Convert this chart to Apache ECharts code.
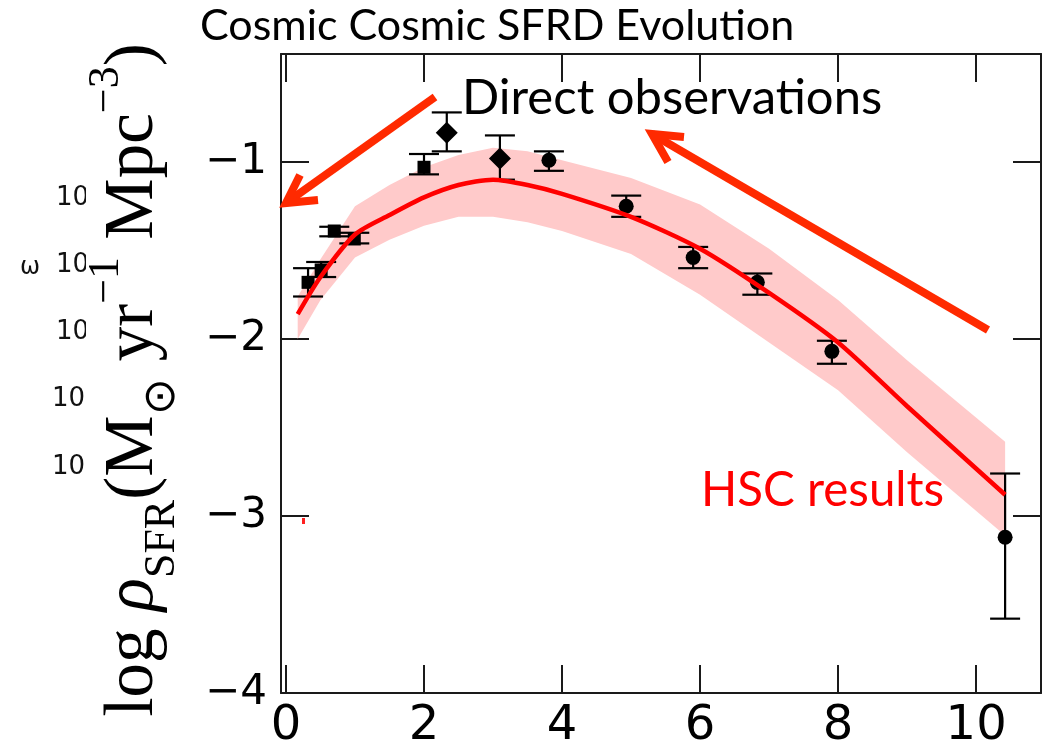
<!DOCTYPE html>
<html>
<head>
<meta charset="utf-8">
<script src="https://cdn.jsdelivr.net/npm/echarts@6/dist/echarts.min.js"></script>
<style>
html,body{margin:0;padding:0;background:#fff;}
#chart{width:1045px;height:751px;}
</style>
</head>
<body>
<div id="chart"></div>
<script>
// ---- data ----
const xTicks = [0, 2, 4, 6, 8, 10];
const yTicks = [-4, -3, -2, -1];

// HSC model curve and its uncertainty band
const zGrid    = [0.17, 0.5, 1.0, 1.5, 2.0, 2.5, 3.0, 3.5, 4.0, 5.0, 6.0, 7.0, 8.0, 9.0, 10.42];
const hscFit   = [-1.86, -1.65, -1.41, -1.30, -1.20, -1.13, -1.10, -1.13, -1.18, -1.31, -1.49, -1.74, -2.02, -2.38, -2.88];
const hscUpper = [-1.76, -1.55, -1.25, -1.13, -1.03, -0.96, -0.92, -0.94, -0.99, -1.09, -1.24, -1.49, -1.78, -2.12, -2.58];
const hscLower = [-2.00, -1.78, -1.54, -1.44, -1.36, -1.31, -1.31, -1.34, -1.39, -1.52, -1.75, -2.02, -2.29, -2.64, -3.11];

// Direct observations
const obsZ     = [0.32, 0.51, 0.70, 0.99, 2.00, 2.33, 3.10, 3.81, 4.93, 5.90, 6.83, 7.91, 10.42];
const obsSFRD  = [-1.68, -1.61, -1.39, -1.435, -1.03, -0.835, -0.98, -0.99, -1.25, -1.54, -1.68, -2.07, -3.12];
const obsHigh  = [-1.60, -1.565, -1.366, -1.40, -0.955, -0.72, -0.85, -0.94, -1.19, -1.48, -1.63, -2.01, -2.76];
const obsLow   = [-1.76, -1.65, -1.42, -1.46, -1.07, -0.94, -1.10, -1.05, -1.31, -1.60, -1.75, -2.14, -3.58];
const obsShape = ['rect','rect','rect','rect','rect','diamond','diamond','circle','circle','circle','circle','circle','circle'];

// ---- chart ----
const chart = echarts.init(document.getElementById('chart'), null, {renderer:'canvas'});
const sizeOf = {rect: 13, diamond: 22, circle: 15};
const minusFmt = v => String(v).replace('-', '\u2212');
const axisColor = '#1a1a1a';

const bandPts = (api) => {
  const pts = [];
  for (let i = 0; i < zGrid.length; i++) pts.push(api.coord([zGrid[i], hscUpper[i]]));
  for (let i = zGrid.length - 1; i >= 0; i--) pts.push(api.coord([zGrid[i], hscLower[i]]));
  return pts;
};

const option = {
  backgroundColor: '#fff',
  animation: false,
  grid: {left: 281, right: 4, top: 54, bottom: 58, containLabel: false},
  xAxis: [
    {type:'value', min:-0.072, max:10.94, position:'bottom',
     axisLine:{show:true, onZero:false, lineStyle:{color:axisColor, width:2}},
     axisTick:{show:true, inside:true, length:28, lineStyle:{color:axisColor, width:2}, customValues: xTicks},
     axisLabel:{show:true, customValues: xTicks, fontFamily:'DejaVu Sans', fontSize:48, color:'#000', margin:10},
     splitLine:{show:false}},
    {type:'value', min:-0.072, max:10.94, position:'top',
     axisLine:{show:true, onZero:false, lineStyle:{color:axisColor, width:2}},
     axisTick:{show:true, inside:true, length:28, lineStyle:{color:axisColor, width:2}, customValues: xTicks},
     axisLabel:{show:false}, splitLine:{show:false}}
  ],
  yAxis: [
    {type:'value', min:-4, max:-0.39, position:'left',
     axisLine:{show:true, onZero:false, lineStyle:{color:axisColor, width:2}},
     axisTick:{show:true, inside:true, length:28, lineStyle:{color:axisColor, width:2}, customValues: yTicks},
     axisLabel:{show:true, customValues: yTicks, formatter: minusFmt, fontFamily:'DejaVu Sans', fontSize:42, color:'#000', margin:14},
     splitLine:{show:false}},
    {type:'value', min:-4, max:-0.39, position:'right',
     axisLine:{show:true, onZero:false, lineStyle:{color:axisColor, width:2}},
     axisTick:{show:true, inside:true, length:28, lineStyle:{color:axisColor, width:2}, customValues: yTicks},
     axisLabel:{show:false}, splitLine:{show:false}}
  ],
  series: [
    {type:'custom', name:'band', z:1, silent:true, clip:true,
     data:[[zGrid[0], hscFit[0]]],
     renderItem:(params, api) => ({type:'polygon', shape:{points: bandPts(api)}, style:{fill:'#ffcaca'}})},
    {type:'custom', name:'errors', z:3, silent:true,
     data: obsZ.map((z,i)=>[z, obsLow[i], obsHigh[i]]),
     encode:{x:0, y:[1,2]},
     renderItem:(params, api) => {
       const lo = api.coord([api.value(0), api.value(1)]);
       const hi = api.coord([api.value(0), api.value(2)]);
       const h = 15;
       const st = {stroke:'#000', lineWidth:2.2};
       return {type:'group', children:[
         {type:'line', shape:{x1:lo[0], y1:lo[1], x2:hi[0], y2:hi[1]}, style:st},
         {type:'line', shape:{x1:lo[0]-h, y1:lo[1], x2:lo[0]+h, y2:lo[1]}, style:st},
         {type:'line', shape:{x1:hi[0]-h, y1:hi[1], x2:hi[0]+h, y2:hi[1]}, style:st}
       ]};
     }},
    {type:'scatter', name:'obs', z:4, silent:true,
     data: obsZ.map((z,i)=>({value:[z, obsSFRD[i]], symbol: obsShape[i], symbolSize: sizeOf[obsShape[i]]})),
     itemStyle:{color:'#000', opacity:1}},
    {type:'line', name:'HSC', z:5, silent:true, smooth:0.25, showSymbol:false, symbol:'none',
     data: zGrid.map((z,i)=>[z, hscFit[i]]),
     lineStyle:{color:'#ff0000', width:4.5}}
  ],
  graphic: [
    // title
    {type:'text', left:200, top:5, style:{text:'Cosmic Cosmic SFRD Evolution', fontFamily:'Lato', fontSize:43, fill:'#000'}},
    {type:'text', left:462, top:74, style:{text:'Direct observations', fontFamily:'Lato', fontSize:49, fill:'#000'}},
    {type:'text', left:701, top:467, style:{text:'HSC results', fontFamily:'Lato', fontSize:47.5, fill:'#ff0000'}},
    // arrows
    {type:'polyline', shape:{points:[[435,97],[286,203]]}, style:{stroke:'#ff2a00', lineWidth:8, fill:null}, z:10},
    {type:'polyline', shape:{points:[[300,175],[286,203],[318,200]]}, style:{stroke:'#ff2a00', lineWidth:8, fill:null, lineJoin:'miter'}, z:10},
    {type:'polyline', shape:{points:[[988,330],[652,134]]}, style:{stroke:'#ff2a00', lineWidth:8, fill:null}, z:10},
    {type:'polyline', shape:{points:[[684,137],[652,134],[668,162]]}, style:{stroke:'#ff2a00', lineWidth:8, fill:null, lineJoin:'miter'}, z:10},
    // small red mark
    {type:'rect', shape:{x:302, y:518, width:3, height:6}, style:{fill:'#ff2020'}},
    // leftover labels
    {type:'text', x:56, y:198, style:{text:'10', fontFamily:'DejaVu Sans', fontSize:26, fill:'#111', verticalAlign:'middle'}},
    {type:'text', x:56, y:265, style:{text:'10', fontFamily:'DejaVu Sans', fontSize:26, fill:'#111', verticalAlign:'middle'}},
    {type:'text', x:56, y:332, style:{text:'10', fontFamily:'DejaVu Sans', fontSize:26, fill:'#111', verticalAlign:'middle'}},
    {type:'text', x:52, y:399, style:{text:'10', fontFamily:'DejaVu Sans', fontSize:26, fill:'#111', verticalAlign:'middle'}},
    {type:'text', x:52, y:467, style:{text:'10', fontFamily:'DejaVu Sans', fontSize:26, fill:'#111', verticalAlign:'middle'}},
    {type:'rect', shape:{x:86, y:180, width:14, height:170}, style:{fill:'#fff'}},
    {type:'text', x:30, y:268, style:{text:'\u03c9', fontFamily:'DejaVu Sans', fontSize:24, fill:'#111', align:'center', verticalAlign:'middle'}},
    // y-axis title
    {type:'text', x:134, y:380, rotation:Math.PI/2, z:20,
     style:{
       text:'{n|log }{i|\u03c1}{sub|SFR}{n|(M}{sub|\u2299}{n| yr}{sup|\u22121}{n| Mpc}{sup|\u22123}{n|)}',
       align:'center', verticalAlign:'middle',
       rich:{
         n:{fontFamily:'Liberation Serif', fontSize:69, fill:'#000', lineHeight:100, verticalAlign:'middle'},
         i:{fontFamily:'Liberation Serif', fontStyle:'italic', fontSize:69, fill:'#000', lineHeight:100, verticalAlign:'middle'},
         sub:{fontFamily:'Liberation Serif', fontSize:44, fill:'#000', lineHeight:100, verticalAlign:'bottom'},
         sup:{fontFamily:'Liberation Serif', fontSize:44, fill:'#000', lineHeight:100, verticalAlign:'top'}
       }
     }}
  ]
};
chart.setOption(option);
</script>
</body>
</html>
